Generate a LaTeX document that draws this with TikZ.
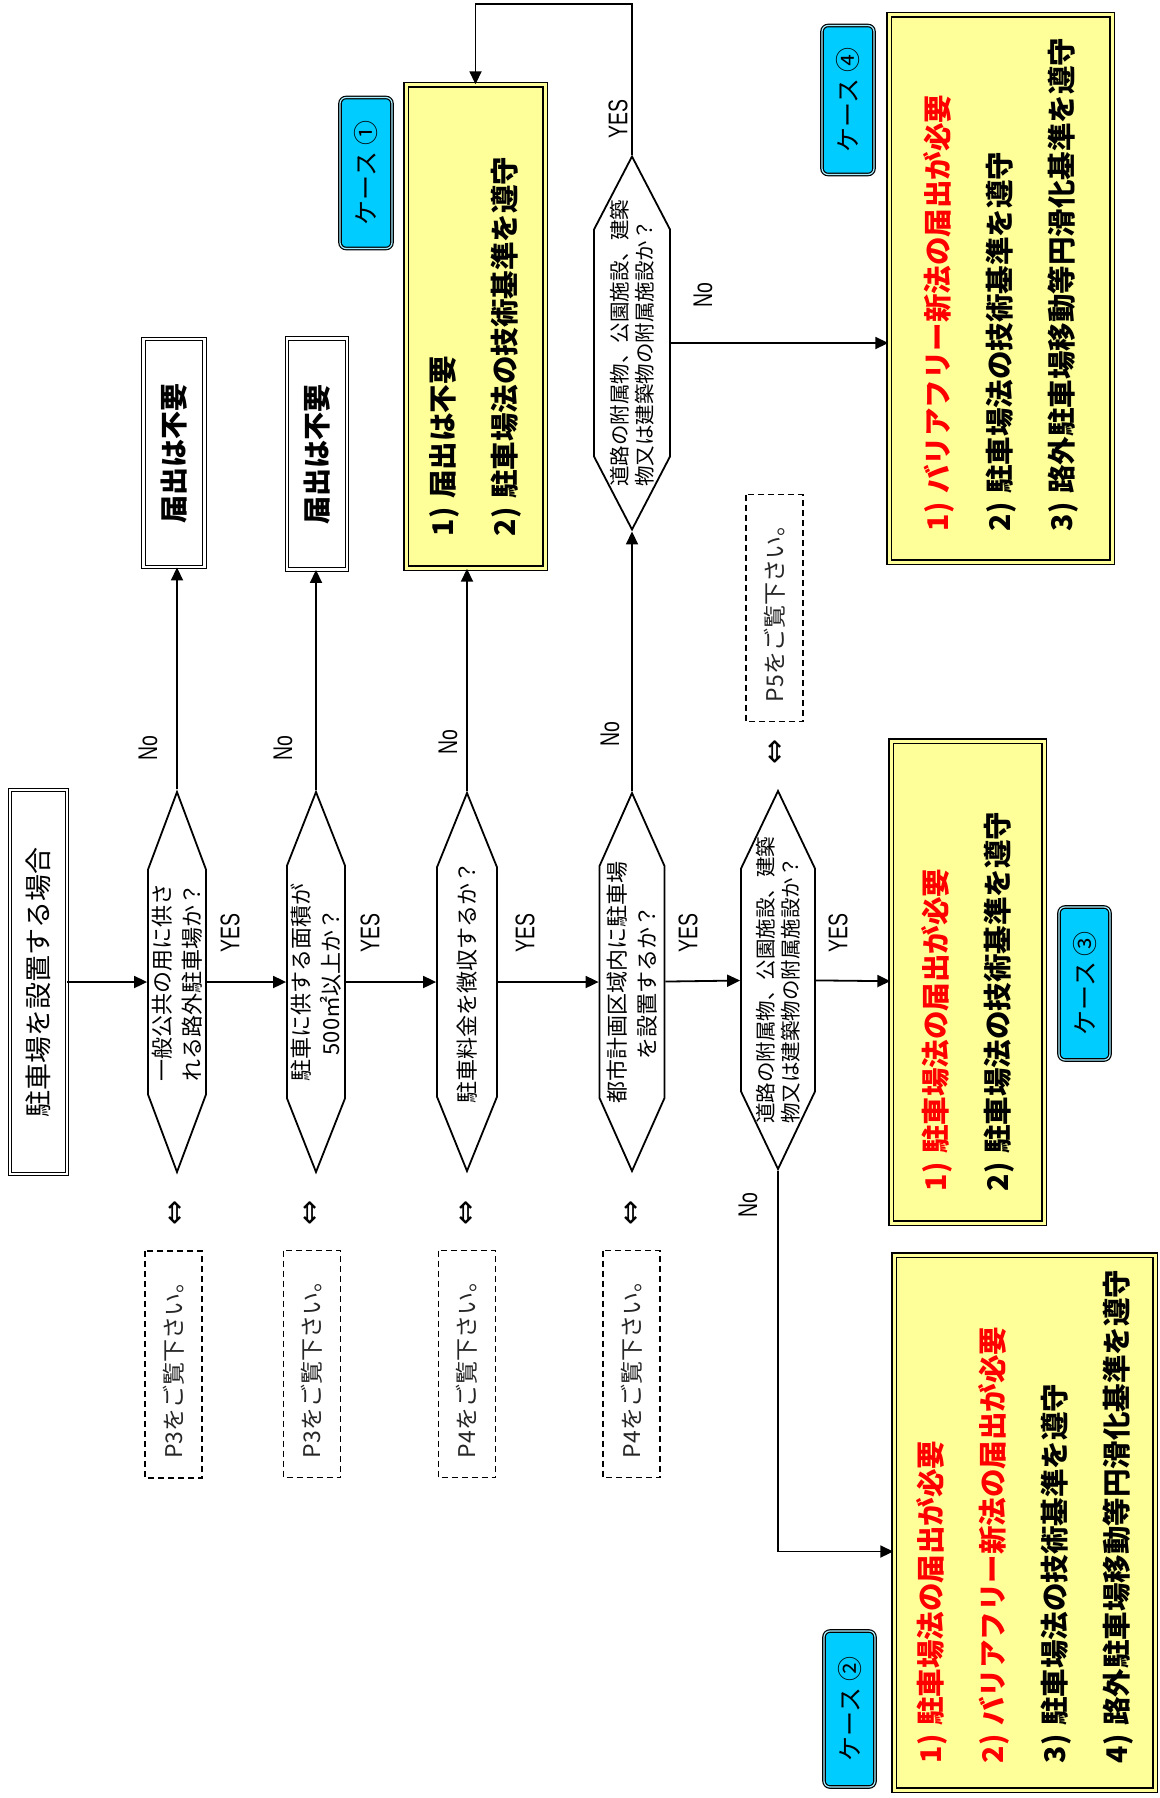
\documentclass[tikz,border=0pt]{standalone}
\usepackage{fontspec}
\usepackage{tikz}
\usetikzlibrary{arrows.meta,shapes.symbols}
\newfontfamily\jp{Noto Sans CJK JP}
\newfontfamily\lab[FakeStretch=0.72]{Liberation Sans}
\newfontfamily\sym{DejaVu Sans}
\definecolor{memo}{HTML}{FFFF99}
\definecolor{tag}{HTML}{00CCFF}
\definecolor{must}{HTML}{FF0000}
\newcommand{\nr}[1]{#1)\hspace{0.3em}}
\tikzset{
    %Define standard arrow tip
    >={Triangle[length=13pt,width=12pt]},
    %Define style for boxes
    ask/.style={
   	signal, signal to=east and west,
   	draw=black, line width=1.8pt,
   	rotate=90, inner sep=0pt
   },
   asktext/.style={
   	rotate=90, inner sep=0pt,
   	font=\jp\fontsize{22}{30}\selectfont,
   	align=center
   },
   plain/.style={
   	rectangle,
   	draw=black, line width=0.9pt,
   	double, double distance=2.5pt,
   	rotate=90, inner sep=0pt,
   	font=\jp\fontsize{27}{27}\selectfont
   },
   result/.style={
   	rectangle,
   	draw=black, line width=1.4pt,
   	double=memo, double distance=3pt,
   	fill=memo,
   	rotate=90, inner sep=0pt,
   	font=\jp\bfseries\fontsize{28.5}{62}\selectfont,
   	align=left
   },
   casetag/.style={
   	rectangle, rounded corners=6pt,
   	draw=black, line width=1.2pt,
   	double=tag!35!white, double distance=1.2pt,
   	fill=tag,
   	rotate=90, inner sep=0pt,
   	font=\jp\fontsize{25}{25}\selectfont
   },
   see/.style={
   	rectangle,
   	draw=black, line width=1.3pt,
   	dash pattern=on 6pt off 4pt,
   	rotate=90, inner sep=0pt,
   	minimum width=227pt, minimum height=57pt,
   	font=\jp\fontsize{23}{23}\selectfont,
   	text=black!85
   }
}

\begin{document}
\begin{tikzpicture}[->,x=1pt,y=-1pt,line width=1.8pt,
		yn/.style={font=\lab\fontsize{27}{27}\selectfont,rotate=90,inner sep=0pt},
		both/.style={font=\sym\fontsize{30}{30}\selectfont,rotate=90,inner sep=0pt}]
		\useasboundingbox (0,0) rectangle (1159,1798);
		%nodes
		\node[plain, minimum width=384pt, minimum height=57pt](start) at (38.5,982){駐車場を設置する場合};
		\node[ask, minimum width=380pt, minimum height=58pt, signal pointer angle=41](q1) at (177,982){};
		\node[ask, minimum width=380pt, minimum height=58pt, signal pointer angle=43](q2) at (316,982){};
		\node[ask, minimum width=378pt, minimum height=60pt, signal pointer angle=44](q3) at (467,982){};
		\node[ask, minimum width=378pt, minimum height=65pt, signal pointer angle=48](q4) at (632,982){};
		\node[ask, minimum width=378pt, minimum height=74pt, signal pointer angle=51](q5) at (778,980){};
		\node[ask, minimum width=373pt, minimum height=76pt, signal pointer angle=55](q6) at (632,343){};
		\node[asktext](q1t) at (q1){一般公共の用に供さ\\れる路外駐車場か？};
		\node[asktext](q2t) at (q2){駐車に供する面積が\\500㎡以上か？};
		\node[asktext](q3t) at (q3){駐車料金を徴収するか？};
		\node[asktext](q4t) at (q4){都市計画区域内に駐車場\\を設置するか？};
		\node[asktext, align=left, font=\jp\fontsize{20.5}{25}\selectfont](q5t) at (q5){道路の附属物、公園施設、建築\\物又は建築物の附属施設か？};
		\node[asktext, align=left, font=\jp\fontsize{20.5}{25}\selectfont](q6t) at (q6){道路の附属物、公園施設、建築\\物又は建築物の附属施設か？};
		%results
		\node[plain, minimum width=228pt, minimum height=61pt, font=\jp\bfseries\fontsize{28}{28}\selectfont](nf1) at (174,453){届出は不要};
		\node[plain, minimum width=231pt, minimum height=60pt, font=\jp\bfseries\fontsize{28}{28}\selectfont](nf2) at (317,454){届出は不要};
		\node[result, minimum width=483pt, minimum height=139pt, text width=419pt](case1) at (475.5,326.5){\nr{1}届出は不要\\\nr{2}駐車場法の技術基準を遵守};
		\node[result, minimum width=547pt, minimum height=223pt, text width=485pt](case4) at (1000.5,288.5){\textcolor{must}{\nr{1}バリアフリー新法の届出が必要}\\\nr{2}駐車場法の技術基準を遵守\\\nr{3}路外駐車場移動等円滑化基準を遵守};
		\node[result, minimum width=482pt, minimum height=153pt, text width=418pt](case3) at (967.5,982){\textcolor{must}{\nr{1}駐車場法の届出が必要}\\\nr{2}駐車場法の技術基準を遵守};
		\node[result, minimum width=535pt, minimum height=261pt, text width=481pt](case2) at (1024.5,1522.5){\textcolor{must}{\nr{1}駐車場法の届出が必要}\\\textcolor{must}{\nr{2}バリアフリー新法の届出が必要}\\\nr{3}駐車場法の技術基準を遵守\\\nr{4}路外駐車場移動等円滑化基準を遵守};
		%case tags
		\node[casetag, minimum width=151pt, minimum height=52pt](tag1) at (366,173){ケース ①};
		\node[casetag, minimum width=156pt, minimum height=51pt](tag2) at (849.5,1709){ケース ②};
		\node[casetag, minimum width=153pt, minimum height=51pt](tag3) at (1084.5,983.5){ケース ③};
		\node[casetag, minimum width=149pt, minimum height=52pt](tag4) at (848,100){ケース ④};
		%page references
		\node[see](ref1) at (173.5,1364.5){P3をご覧下さい。};
		\node[see](ref2) at (312,1364){P3をご覧下さい。};
		\node[see](ref3) at (467,1364){P4をご覧下さい。};
		\node[see](ref4) at (631.5,1364){P4をご覧下さい。};
		\node[see](ref5) at (774.5,608){P5をご覧下さい。};
		\node[both](dbl1) at (177,1213){⇔};
		\node[both](dbl2) at (312,1213){⇔};
		\node[both](dbl3) at (468,1213){⇔};
		\node[both](dbl4) at (633,1213){⇔};
		\node[both](dbl5) at (777,752){⇔};
		%labels
		\node[yn](y1) at (230,933){YES};
		\node[yn](y2) at (370,933){YES};
		\node[yn](y3) at (525,933){YES};
		\node[yn](y4) at (688,933){YES};
		\node[yn](y5) at (838,933){YES};
		\node[yn](y6) at (618,119){YES};
		\node[yn](n1) at (148,748){No};
		\node[yn](n2) at (283,748){No};
		\node[yn](n3) at (448,742){No};
		\node[yn](n4) at (610,734){No};
		\node[yn](n5) at (748,1205){No};
		\node[yn](n6) at (703,295){No};
		\coordinate (turn) at (632,4);
		%connectors
		\path
		(start) edge (q1)
		(q1) edge (q2)
		(q2) edge (q3)
		(q3) edge (q4)
		(q4) edge (q5)
		(q5) edge (case3)
		(q4) edge (q6);
		\draw (q1.east) -- (q1.east |- nf1.west);
		\draw (q2.east) -- (q2.east |- nf2.west);
		\draw (q3.east) -- (q3.east |- case1.west);
		\draw (q6.south) -- (q6.south -| case4.north);
		\draw (q6.east) -- (turn) -| (case1.east);
		\draw (q5.west) |- ([yshift=-29pt]case2.north);
\end{tikzpicture}
\end{document}
